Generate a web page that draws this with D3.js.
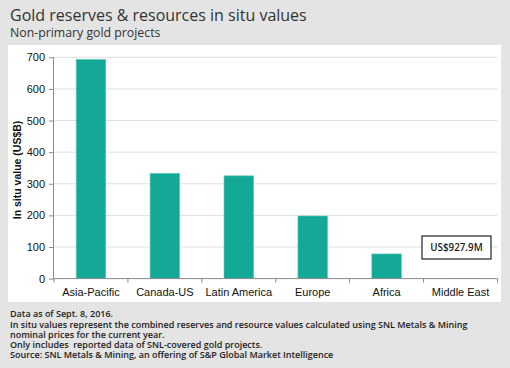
<!DOCTYPE html>
<html>
<head>
<meta charset="utf-8">
<script src="https://cdn.jsdelivr.net/npm/d3@7"></script>
<style>
  body { margin: 0; background: #e3e4e3; }
  svg { display: block; }
</style>
</head>
<body>
<div id="chart"></div>
<script>
const regions = ["Asia-Pacific", "Canada-US", "Latin America", "Europe", "Africa", "Middle East"];
const inSituValues = [693, 333, 325, 198, 78, 0.928];
const yTicks = [0, 100, 200, 300, 400, 500, 600, 700];
const notes = [
  "Data as of Sept. 8, 2016.",
  "In situ values represent the combined reserves and resource values calculated using SNL Metals & Mining",
  "nominal prices for the current year.",
  "Only includes  reported data of SNL-covered gold projects.",
  "Source: SNL Metals & Mining, an offering of S&P Global Market Intelligence"
];
const calloutText = "US$927.9M";

const width = 510, height = 368;
const plot = { left: 54, right: 497.5, top: 57.3, bottom: 278.6 };

const svg = d3.select("#chart").append("svg")
  .attr("width", width)
  .attr("height", height);

svg.append("rect").attr("width", width).attr("height", height).attr("fill", "#e3e4e3");

svg.append("text")
  .attr("x", 10).attr("y", 21)
  .attr("font-family", "Open Sans").attr("font-size", "16px")
  .attr("fill", "#333")
  .text("Gold reserves & resources in situ values");

svg.append("text")
  .attr("x", 10).attr("y", 37)
  .attr("font-family", "Open Sans").attr("font-size", "12.3px")
  .attr("fill", "#333")
  .text("Non-primary gold projects");

// white chart panel
svg.append("rect")
  .attr("x", 8).attr("y", 45)
  .attr("width", 493).attr("height", 257)
  .attr("fill", "#fff");

const x = d3.scaleBand().domain(regions).range([plot.left, plot.right]);
const y = d3.scaleLinear().domain([0, 700]).range([plot.bottom, plot.top]);

// gridlines
svg.append("g").selectAll("line")
  .data(yTicks.filter(d => d > 0))
  .join("line")
  .attr("x1", plot.left).attr("x2", plot.right)
  .attr("y1", d => y(d)).attr("y2", d => y(d))
  .attr("stroke", "#e0e0e0").attr("stroke-width", 1);

// bars
const barW = x.bandwidth() * 0.4;
svg.append("g").selectAll("rect")
  .data(regions)
  .join("rect")
  .attr("x", (d) => x(d) + (x.bandwidth() - barW) / 2)
  .attr("width", barW)
  .attr("y", (d, i) => y(inSituValues[i]))
  .attr("height", (d, i) => plot.bottom - y(inSituValues[i]))
  .attr("fill", "#13a996")
  .attr("stroke", "#5cc6b8").attr("stroke-width", 0.6);

// y axis
const yAxis = svg.append("g")
  .attr("transform", `translate(${plot.left},0)`)
  .call(d3.axisLeft(y).tickValues(yTicks).tickSize(5).tickPadding(4));
yAxis.select(".domain").attr("stroke", "#8a8a8a").attr("d", `M-0.5,${plot.top}V${plot.bottom}`);
yAxis.selectAll(".tick line").attr("stroke", "#8a8a8a");
yAxis.selectAll(".tick text")
  .attr("font-family", "Liberation Sans, Arial").attr("font-size", "11px").attr("fill", "#111");

// x axis: ticks on band edges
const xAxis = svg.append("g").attr("transform", `translate(0,${plot.bottom})`);
xAxis.append("line")
  .attr("x1", plot.left).attr("x2", plot.right)
  .attr("stroke", "#8a8a8a");
xAxis.selectAll("line.tk")
  .data(regions.map(d => x(d)).concat([plot.right]))
  .join("line").attr("class", "tk")
  .attr("x1", d => d).attr("x2", d => d)
  .attr("y1", 0).attr("y2", 4)
  .attr("stroke", "#8a8a8a");
xAxis.selectAll("text")
  .data(regions)
  .join("text")
  .attr("x", d => x(d) + x.bandwidth() / 2)
  .attr("y", 17.5)
  .attr("text-anchor", "middle")
  .attr("font-family", "Liberation Sans, Arial").attr("font-size", "11px").attr("fill", "#111")
  .text(d => d);

// y axis title
svg.append("text")
  .attr("transform", `translate(21,${(plot.top + plot.bottom) / 2 + 2}) rotate(-90)`)
  .attr("text-anchor", "middle")
  .attr("font-family", "Liberation Sans, Arial").attr("font-size", "10.5px")
  .attr("font-weight", "bold").attr("fill", "#111")
  .text("In situ value (US$B)");

// callout for Middle East
const call = svg.append("g").attr("transform", "translate(422,236)");
call.append("rect")
  .attr("width", 69).attr("height", 23)
  .attr("fill", "#fff").attr("stroke", "#222").attr("stroke-width", 1.2);
call.append("text")
  .attr("x", 34.5).attr("y", 15.3)
  .attr("text-anchor", "middle")
  .attr("font-family", "Open Sans").attr("font-size", "9.8px").attr("font-weight", 600)
  .attr("fill", "#222")
  .text(calloutText);

// footnotes
svg.append("g").selectAll("text")
  .data(notes)
  .join("text")
  .attr("x", 10)
  .attr("y", (d, i) => 317 + i * 10 + (i > 0 ? 0.6 : 0))
  .attr("font-family", "Open Sans").attr("font-size", "9px").attr("font-weight", 600)
  .attr("fill", "#222")
  .style("white-space", "pre")
  .text(d => d);
</script>
</body>
</html>
